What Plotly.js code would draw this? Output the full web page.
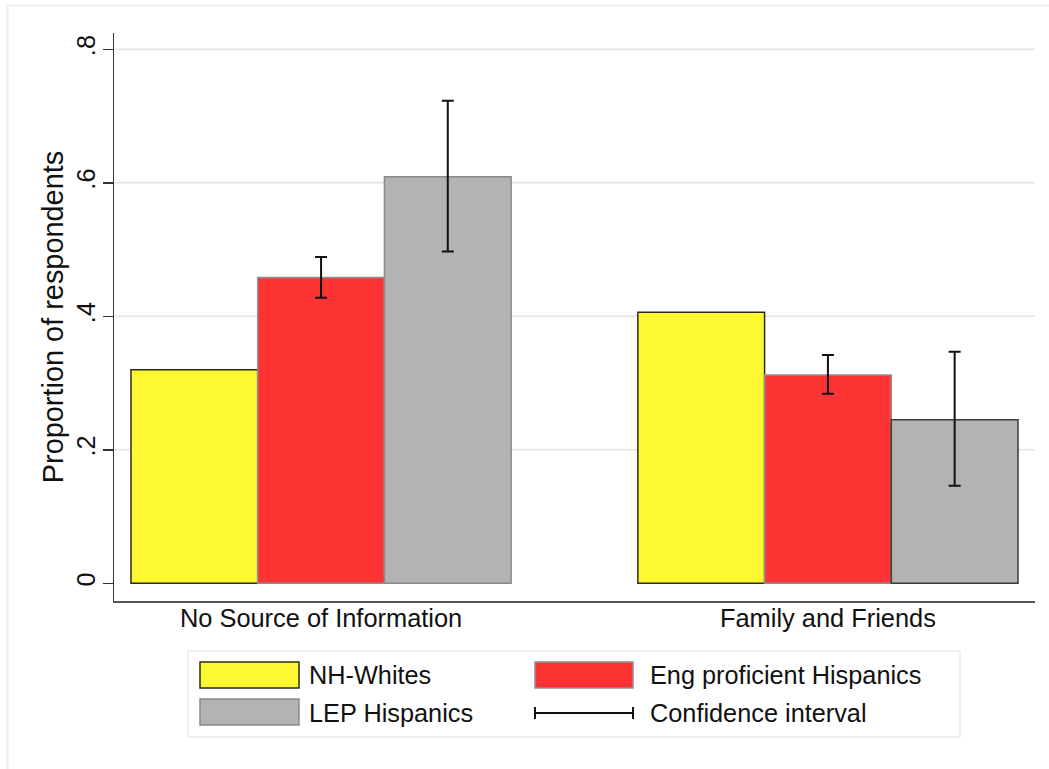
<!DOCTYPE html>
<html>
<head>
<meta charset="utf-8">
<script src="https://cdn.plot.ly/plotly-3.0.1.min.js"></script>
<style>
  html, body { margin: 0; padding: 0; background: #ffffff; }
  #chart { width: 1049px; height: 769px; }
</style>
</head>
<body>
<div id="chart"></div>
<script>
// Sources of information, proportion of respondents by group
const categories = ["No Source of Information", "Family and Friends"];
const seriesNames = ["NH-Whites", "Eng proficient Hispanics", "LEP Hispanics"];
const nhWhites = [0.32, 0.406];
const engHispanics = [0.458, 0.312];
const engCiLow = [0.428, 0.284];
const engCiHigh = [0.489, 0.342];
const lepHispanics = [0.609, 0.245];
const lepCiLow = [0.497, 0.146];
const lepCiHigh = [0.723, 0.347];
const yTickValues = [0, 0.2, 0.4, 0.6, 0.8];
const yTickLabels = ["0", ".2", ".4", ".6", ".8"];
const ciLabel = "Confidence interval";

// Page geometry (pixels)
const W = 1049, H = 769;
const M = { l: 114, r: 14, t: 33, b: 168 };
const PW = W - M.l - M.r, PH = H - M.t - M.b;
const px = x => (x - M.l) / PW;          // pixel x -> paper x
const py = y => (H - M.b - y) / PH;      // pixel y -> paper y

const FONT = "Liberation Sans, Arial, Helvetica, sans-serif";
const TXT = "#111111";
const xPos = categories.map((_, i) => i);

function upper(v, hi) { return hi.map((h, i) => h - v[i]); }
function lower(v, lo) { return lo.map((l, i) => v[i] - l); }

const errStyle = { color: "#111111", thickness: 2, width: 6 };

const traces = [
  {
    type: "bar", name: seriesNames[0], x: xPos, y: nhWhites,
    marker: { color: "#fdf931", line: { color: "#2b2b1c", width: 1.5 } },
    hoverinfo: "y"
  },
  {
    type: "bar", name: seriesNames[1], x: xPos, y: engHispanics,
    marker: { color: "#fe3434", line: { color: "#8f8f8f", width: 1.5 } },
    error_y: Object.assign({ type: "data", symmetric: false,
      array: upper(engHispanics, engCiHigh), arrayminus: lower(engHispanics, engCiLow) }, errStyle),
    hoverinfo: "y"
  },
  {
    type: "bar", name: seriesNames[2], x: xPos, y: lepHispanics,
    marker: { color: "#b3b3b3", line: { color: ["#8a8a8a", "#3c3c3c"], width: 1.5 } },
    error_y: Object.assign({ type: "data", symmetric: false,
      array: upper(lepHispanics, lepCiHigh), arrayminus: lower(lepHispanics, lepCiLow) }, errStyle),
    hoverinfo: "y"
  }
];

// Horizontal grid lines (all ticks except the baseline)
const shapes = yTickValues.filter(v => v > 0).map(v => ({
  type: "line", xref: "paper", yref: "y", x0: 0, x1: 1, y0: v, y1: v,
  line: { color: "#e8e8e8", width: 2 }, layer: "below"
}));

// Outer frame of the graph region
shapes.push({ type: "line", xref: "paper", yref: "paper",
  x0: px(7), x1: px(W), y0: py(5.5), y1: py(5.5), line: { color: "#eeeeee", width: 2 } });
shapes.push({ type: "line", xref: "paper", yref: "paper",
  x0: px(7.5), x1: px(7.5), y0: py(5), y1: py(H), line: { color: "#eeeeee", width: 2 } });

// Legend box
shapes.push({ type: "rect", xref: "paper", yref: "paper",
  x0: px(188), x1: px(960), y0: py(651), y1: py(737),
  line: { color: "#ececec", width: 1.5 }, fillcolor: "#ffffff" });

// Legend swatches
const swatches = [
  { x0: 200, x1: 299, y0: 662, y1: 688, fill: "#fdf931", line: "#2b2b1c" },
  { x0: 535, x1: 633, y0: 662, y1: 688, fill: "#fe3434", line: "#8f8f8f" },
  { x0: 200, x1: 299, y0: 699, y1: 725, fill: "#b3b3b3", line: "#8a8a8a" }
];
swatches.forEach(s => shapes.push({ type: "rect", xref: "paper", yref: "paper",
  x0: px(s.x0), x1: px(s.x1), y0: py(s.y0), y1: py(s.y1),
  fillcolor: s.fill, line: { color: s.line, width: 1.5 } }));

// Confidence interval legend key
shapes.push({ type: "line", xref: "paper", yref: "paper",
  x0: px(535), x1: px(633), y0: py(713), y1: py(713), line: { color: "#111111", width: 2 } });
[535, 633].forEach(x => shapes.push({ type: "line", xref: "paper", yref: "paper",
  x0: px(x), x1: px(x), y0: py(707), y1: py(719), line: { color: "#111111", width: 2 } }));

const legendText = [
  { text: seriesNames[0], x: 307, y: 675 },
  { text: seriesNames[1], x: 648, y: 675 },
  { text: seriesNames[2], x: 307, y: 713 },
  { text: ciLabel, x: 648, y: 713 }
];
const annotations = legendText.map(t => ({
  xref: "paper", yref: "paper", x: px(t.x), y: py(t.y), text: t.text,
  showarrow: false, xanchor: "left", yanchor: "middle",
  font: { family: FONT, size: 25.3, color: TXT }
}));

const layout = {
  width: W, height: H,
  margin: M,
  paper_bgcolor: "#ffffff", plot_bgcolor: "#ffffff",
  barmode: "group", bargap: 0.25, bargroupgap: 0,
  showlegend: false,
  font: { family: FONT, color: TXT },
  xaxis: {
    range: [-0.4085, 1.4085], tickmode: "array", tickvals: xPos, ticktext: categories,
    ticks: "", showgrid: false, zeroline: false,
    showline: true, linecolor: "#555555", linewidth: 2,
    tickfont: { family: FONT, size: 25.4, color: TXT },
    ticklabelstandoff: -6,
    fixedrange: true
  },
  yaxis: {
    range: [-0.0265, 0.8245], tickmode: "array", tickvals: yTickValues, ticktext: yTickLabels,
    ticks: "outside", ticklen: 10, tickwidth: 1.5, tickcolor: "#333333",
    tickangle: -90, tickfont: { family: FONT, size: 25.4, color: TXT },
    ticklabelstandoff: -3,
    showgrid: false, zeroline: false,
    showline: true, linecolor: "#333333", linewidth: 1.5,
    title: { text: "Proportion of respondents", standoff: 0,
      font: { family: FONT, size: 28.9, color: TXT } },
    automargin: false, fixedrange: true
  },
  shapes: shapes,
  annotations: annotations
};

Plotly.newPlot("chart", traces, layout, { displayModeBar: false, staticPlot: true });
</script>
</body>
</html>
